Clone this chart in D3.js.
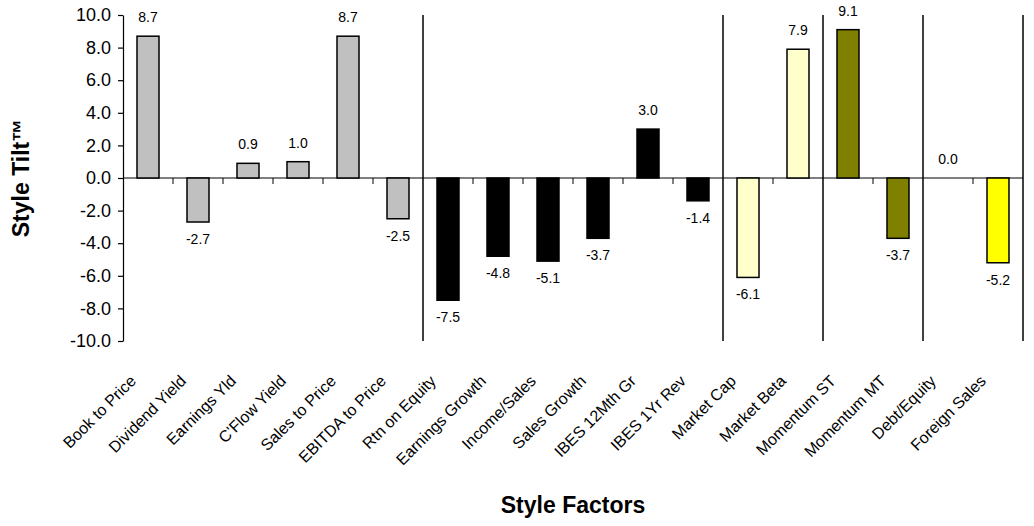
<!DOCTYPE html>
<html>
<head>
<meta charset="utf-8">
<script src="https://cdn.jsdelivr.net/npm/d3@7"></script>
<style>
  html, body { margin: 0; padding: 0; background: #fff; }
  svg { display: block; font-family: "Liberation Sans", Arial, sans-serif; }
</style>
</head>
<body>
<svg id="chart" width="1034" height="526"></svg>
<script>
// ---- data ----
const categories = ["Book to Price", "Dividend Yield", "Earnings Yld", "C'Flow Yield", "Sales to Price", "EBITDA to Price",
  "Rtn on Equity", "Earnings Growth", "Income/Sales", "Sales Growth", "IBES 12Mth Gr", "IBES 1Yr Rev",
  "Market Cap", "Market Beta", "Momentum ST", "Momentum MT", "Debt/Equity", "Foreign Sales"];
const values = [8.7, -2.7, 0.9, 1.0, 8.7, -2.5, -7.5, -4.8, -5.1, -3.7, 3.0, -1.4, -6.1, 7.9, 9.1, -3.7, 0.0, -5.2];
const groups = ["Value", "Value", "Value", "Value", "Value", "Value",
  "Growth", "Growth", "Growth", "Growth", "Growth", "Growth",
  "Risk", "Risk", "Momentum", "Momentum", "Other", "Other"];
const yTicks = [10, 8, 6, 4, 2, 0, -2, -4, -6, -8, -10];

// ---- layout ----
const svg = d3.select("#chart");
const mLeft = 123, mRight = 1023, mTop = 15, mBottom = 341;
const fmt = v => d3.format(".1f")(v).replace("\u2212", "-");

const x = d3.scaleBand().domain(categories).range([mLeft, mRight]).padding(0);
const y = d3.scaleLinear().domain([-10, 10]).range([mBottom, mTop]);
const color = d3.scaleOrdinal()
  .domain(["Value", "Growth", "Risk", "Momentum", "Other"])
  .range(["#c0c0c0", "#000000", "#ffffcc", "#808000", "#ffff00"]);

// y axis
const yAxis = d3.axisLeft(y).tickValues(yTicks).tickFormat(fmt).tickSize(5).tickSizeOuter(0);
const gy = svg.append("g").attr("transform", `translate(${mLeft},0)`).call(yAxis);
gy.select(".domain").attr("stroke", "#000").attr("stroke-width", 1.2);
gy.selectAll(".tick line").attr("stroke", "#000").attr("stroke-width", 1.2);
gy.selectAll(".tick text").attr("font-size", 18).attr("fill", "#000").attr("x", -12)
  .attr("font-family", "'Liberation Sans', Arial, sans-serif");

// group separators (vertical lines at group boundaries)
const boundaries = [];
categories.forEach((c, i) => {
  if (i === categories.length - 1 || groups[i] !== groups[i + 1]) boundaries.push(x(c) + x.bandwidth());
});
svg.append("g").selectAll("line").data(boundaries).join("line")
  .attr("x1", d => d).attr("x2", d => d)
  .attr("y1", mTop).attr("y2", mBottom)
  .attr("stroke", "#000").attr("stroke-width", 1.5);

// zero line
svg.append("line").attr("x1", mLeft).attr("x2", mRight).attr("y1", y(0)).attr("y2", y(0))
  .attr("stroke", "#000").attr("stroke-width", 1.2);

// minor ticks on zero line at category boundaries
const innerEdges = categories.slice(1).map(c => x(c)).filter(v => !boundaries.some(b => Math.abs(b - v) < 0.5));
svg.append("g").selectAll("line").data(innerEdges).join("line")
  .attr("x1", d => d).attr("x2", d => d)
  .attr("y1", y(0)).attr("y2", y(0) + 6)
  .attr("stroke", "#000").attr("stroke-width", 1);

// bars
const bw = x.bandwidth() * 0.44;
svg.append("g").selectAll("rect").data(categories).join("rect")
  .attr("x", (c) => x(c) + (x.bandwidth() - bw) / 2)
  .attr("y", (c, i) => y(Math.max(0, values[i])))
  .attr("width", bw)
  .attr("height", (c, i) => Math.abs(y(values[i]) - y(0)))
  .attr("fill", (c, i) => color(groups[i]))
  .attr("stroke", "#000").attr("stroke-width", 1.5)
  .attr("display", (c, i) => values[i] === 0 ? "none" : null);

// value labels
svg.append("g").selectAll("text").data(categories).join("text")
  .attr("x", c => x(c) + x.bandwidth() / 2)
  .attr("y", (c, i) => values[i] >= 0 ? y(values[i]) - 14 : y(values[i]) + 22)
  .attr("text-anchor", "middle")
  .attr("font-size", 14)
  .attr("fill", "#000")
  .text((c, i) => fmt(values[i]));

// category labels rotated
svg.append("g").selectAll("text").data(categories).join("text")
  .attr("transform", c => `translate(${x(c) + x.bandwidth() / 2 - 11},${382}) rotate(-45)`)
  .attr("text-anchor", "end")
  .attr("font-size", 16)
  .attr("fill", "#000")
  .text(c => c);

// axis titles
svg.append("text")
  .attr("transform", `translate(29,${(mTop + mBottom) / 2}) rotate(-90)`)
  .attr("text-anchor", "middle")
  .attr("font-size", 23).attr("font-weight", "bold").attr("fill", "#000")
  .text("Style Tilt™");

svg.append("text")
  .attr("x", 573).attr("y", 513)
  .attr("text-anchor", "middle")
  .attr("font-size", 23).attr("font-weight", "bold").attr("fill", "#000")
  .text("Style Factors");
</script>
</body>
</html>
